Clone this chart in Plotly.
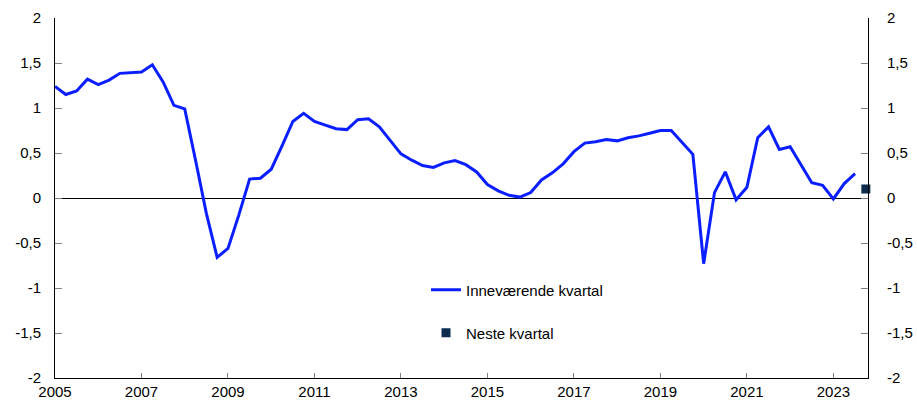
import plotly.graph_objects as go

start_year = 2005
current_quarter = [
    1.24, 1.15, 1.19, 1.32, 1.26, 1.31, 1.385, 1.39, 1.40, 1.48,
    1.29, 1.03, 0.99, 0.42, -0.17, -0.66, -0.56, -0.19, 0.21, 0.22,
    0.32, 0.58, 0.85, 0.94, 0.85, 0.81, 0.77, 0.76, 0.87, 0.88,
    0.79, 0.64, 0.49, 0.42, 0.36, 0.34, 0.39, 0.415, 0.37, 0.29,
    0.15, 0.08, 0.03, 0.01, 0.06, 0.20, 0.28, 0.38, 0.515, 0.61,
    0.625, 0.65, 0.635, 0.67, 0.69, 0.72, 0.75, 0.75, 0.62, 0.485,
    -0.73, 0.06, 0.29, -0.02, 0.12, 0.67, 0.79, 0.54, 0.57, 0.37,
    0.17, 0.14, -0.01, 0.16, 0.27,
]
next_quarter_x = [2023.75]
next_quarter = [0.1]

x_ticks = [2005, 2007, 2009, 2011, 2013, 2015, 2017, 2019, 2021, 2023]
x_ticklabels = [str(v) for v in x_ticks]
y_ticks = [-2, -1.5, -1, -0.5, 0, 0.5, 1, 1.5, 2]
y_ticklabels = ["-2", "-1,5", "-1", "-0,5", "0", "0,5", "1", "1,5", "2"]

quarters_x = [start_year + i * 0.25 for i in range(len(current_quarter))]

FONT = "Arial, Liberation Sans, sans-serif"

fig = go.Figure()
fig.add_trace(go.Scatter(
    x=quarters_x, y=current_quarter, mode="lines",
    line=dict(color="#0a1eff", width=3),
    name="Inneværende kvartal", legend="legend",
))
fig.add_trace(go.Scatter(
    x=next_quarter_x, y=next_quarter, mode="markers",
    marker=dict(symbol="square", size=9, color="#0d2d4f"),
    name="Neste kvartal", legend="legend2", cliponaxis=False,
))
# invisible trace to activate right axis
fig.add_trace(go.Scatter(x=[2005], y=[0], yaxis="y2", mode="markers",
                         marker=dict(opacity=0), showlegend=False, hoverinfo="skip"))

fig.update_layout(
    width=917, height=401,
    margin=dict(l=55, r=49, t=18, b=23),
    paper_bgcolor="white", plot_bgcolor="white",
    font=dict(family=FONT, size=15, color="black"),
    xaxis=dict(range=[2005, 2023.8], tickvals=x_ticks, ticktext=x_ticklabels,
               showgrid=False, zeroline=False, showline=True, linecolor="black",
               linewidth=1, ticks="inside", ticklen=5, tickcolor="#808080",
               tickfont=dict(size=15), automargin=False),
    yaxis=dict(range=[-2, 2], tickvals=y_ticks, ticktext=y_ticklabels,
               showgrid=False, zeroline=True, zerolinecolor="black", zerolinewidth=1,
               showline=True, linecolor="black",
               linewidth=1, ticks="inside", ticklen=7, tickcolor="#808080",
               ticklabelstandoff=10, tickfont=dict(size=15), automargin=False),
    yaxis2=dict(range=[-2, 2], tickvals=y_ticks, ticktext=y_ticklabels,
                overlaying="y", side="right", showgrid=False, zeroline=False,
                showline=True, linecolor="black", linewidth=1, ticks="inside",
                ticklen=7, tickcolor="#808080", ticklabelstandoff=15,
                tickfont=dict(size=15), automargin=False),
    legend=dict(x=(426 - 55) / 813, xanchor="left", y=(378 - 290) / 360,
                yanchor="middle", bgcolor="rgba(0,0,0,0)", borderwidth=0,
                font=dict(size=15), itemwidth=30),
    legend2=dict(x=(426 - 55) / 813, xanchor="left", y=(378 - 333) / 360,
                 yanchor="middle", bgcolor="rgba(0,0,0,0)", borderwidth=0,
                 font=dict(size=15), itemwidth=30),
    showlegend=True,
)

fig.write_html("out.html", config={"displayModeBar": False},
               post_script="document.body.style.margin='0';document.body.style.padding='0';")
